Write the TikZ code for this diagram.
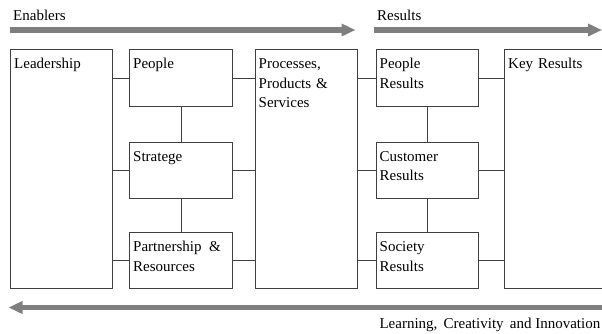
\documentclass[tikz,border=0pt]{standalone}
\usepackage{fontspec}
\setmainfont{Liberation Serif}
\usetikzlibrary{arrows.meta}
\definecolor{bargray}{HTML}{7F7F7F}
\definecolor{framegray}{HTML}{3F3F3F}

\begin{document}
\begin{tikzpicture}[x=1pt,y=-1pt,
  box/.style={draw=framegray,line width=0.9pt,anchor=north west,inner sep=0pt},
  txt/.style={font=\fontsize{15}{19.5}\selectfont,inner sep=0pt,align=left,anchor=base west,
    execute at begin node=\rule{0pt}{12pt}},
  intxt/.style={txt,anchor=north west,text width=96pt},
  flow/.style={draw=bargray,line width=5.5pt,-{Triangle[length=14pt,width=12pt]}},
  link/.style={draw=framegray,line width=0.9pt}]
  \useasboundingbox (0,0) rectangle (602,333);
  \node[box,minimum width=102pt,minimum height=239pt] (lead) at (10,49) {};
  \node[box,minimum width=103pt,minimum height=57pt] (ppl) at (129,49) {};
  \node[box,minimum width=103pt,minimum height=56.5pt] (strat) at (129,141.5) {};
  \node[box,minimum width=103pt,minimum height=56pt] (part) at (129,232) {};
  \node[box,minimum width=102pt,minimum height=239pt] (proc) at (254.5,49) {};
  \node[box,minimum width=102pt,minimum height=57pt] (pres) at (375.5,49) {};
  \node[box,minimum width=102pt,minimum height=56.5pt] (cres) at (375.5,141.5) {};
  \node[box,minimum width=102pt,minimum height=56pt] (sres) at (375.5,232) {};
  \node[box,minimum width=130pt,minimum height=239pt] (key) at (504,49) {};

  \node[intxt] (leadtxt) at ([shift={(4,7.5)}]lead.north west) {Leadership};
  \node[intxt] (ppltxt) at ([shift={(4,7.5)}]ppl.north west) {People};
  \node[intxt] (strattxt) at ([shift={(4,7.5)}]strat.north west) {Stratege};
  \node[intxt] (parttxt) at ([shift={(4,7.5)}]part.north west) {Partnership \,\&\\Resources};
  \node[intxt] (proctxt) at ([shift={(4,7.5)}]proc.north west) {Processes,\\Products \&\\Services};
  \node[intxt] (prestxt) at ([shift={(4,7.5)}]pres.north west) {People\\Results};
  \node[intxt] (crestxt) at ([shift={(4,7.5)}]cres.north west) {Customer\\Results};
  \node[intxt] (srestxt) at ([shift={(4,7.5)}]sres.north west) {Society\\Results};
  \node[intxt] (keytxt) at ([shift={(4,7.5)}]key.north west) {Key Results};

  \foreach \n in {ppl,strat,part} {
    \draw[link] (\n.west) -- (\n.west -| lead.east);
    \draw[link] (\n.east) -- (\n.east -| proc.west);
  }
  \foreach \n in {pres,cres,sres} {
    \draw[link] (\n.west) -- (\n.west -| proc.east);
    \draw[link] (\n.east) -- (\n.east -| key.west);
  }
  \draw[link] (ppl) -- (strat) (strat) -- (part);
  \draw[link] (pres) -- (cres) (cres) -- (sres);

  \coordinate (en0) at (10,30);
  \coordinate (en1) at (355.5,30);
  \coordinate (re0) at (373.5,30);
  \coordinate (re1) at (602,30);
  \coordinate (lc0) at (602,307.5);
  \coordinate (lc1) at (8.5,307.5);
  \draw[flow] (en0) -- (en1);
  \draw[flow] (re0) -- (re1);
  \draw[flow] (lc0) -- (lc1);

  \node[txt] (entxt) at (13,20) {Enablers};
  \node[txt] (retxt) at (377,20) {Results};
  \node[txt,anchor=base east] (lctxt) at (600.5,328) {Learning,\, Creativity\, and Innovation};
\end{tikzpicture}
\end{document}
